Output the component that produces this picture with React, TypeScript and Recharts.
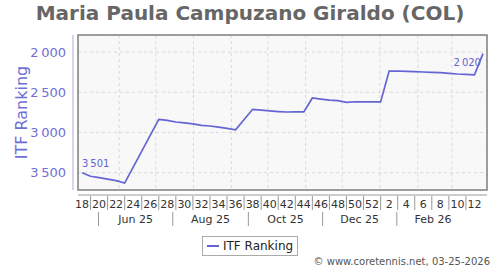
import React from "react";
import {
  LineChart,
  Line,
  XAxis,
  YAxis,
  CartesianGrid,
  Legend,
  LabelList,
  ReferenceArea,
} from "recharts";

// ISO weeks, 2025 W18 .. 2026 W13
const weeks = [
  18, 19, 20, 21, 22, 23, 24, 25, 26, 27, 28, 29, 30, 31, 32, 33, 34, 35, 36,
  37, 38, 39, 40, 41, 42, 43, 44, 45, 46, 47, 48, 49, 50, 51, 52, 1, 2, 3, 4,
  5, 6, 7, 8, 9, 10, 11, 12, 13,
];

const ranking: (number | null)[] = [
  3501, 3545, 3562, 3580, 3600, 3630, null, null, null, 2838, 2850, 2870,
  2880, 2893, 2912, 2920, 2935, 2950, 2968, null, 2712, 2722, 2732, 2740,
  2746, 2745, 2745, 2572, 2585, 2598, 2605, 2625, 2618, 2620, 2620, 2621,
  2237, 2236, 2240, 2244, 2248, 2252, 2256, 2265, 2273, 2278, 2283, 2020,
];

const rankTicks = [2000, 2500, 3000, 3500];
const RANK_DOMAIN: [number, number] = [1788, 3716];

const monthLabels = ["Jun 25", "Aug 25", "Oct 25", "Dec 25", "Feb 26"];
// positions on the week index scale
const monthLabelAt = [6.29, 15.07, 23.85, 32.55, 41.13];
const monthSeparatorAt = [1.93, 10.64, 19.5, 28.2, 36.9];
const monthStartAt = [4.36, 8.64, 13.07, 17.5, 21.79, 26.21, 30.5, 34.93, 39.36, 43.36];

const data = weeks.map((w, i) => ({ i, week: w, rank: ranking[i] }));
const weekTicks = weeks.slice(0, -1).map((_, i) => i);
const X_DOMAIN: [number, number] = [-0.47, weeks.length - 1 + 0.47];

const FONT = "'DejaVu Sans', Verdana, sans-serif";
const LINE = "#6464d2";
const AXIS_TEXT = "#6f6fd4";

function fmt(v: number) {
  const k = Math.floor(v / 1000);
  return k > 0 ? `${k}\u2009${String(v % 1000).padStart(3, "0")}` : String(v);
}

function WeekTick({ x, y, payload }: any) {
  const w = weeks[payload.value];
  if (w % 2 === 1) {
    return <line x1={x} x2={x} y1={y + 6} y2={y + 20} stroke="#999" />;
  }
  return (
    <text x={x} y={y + 18} textAnchor="middle" fontSize={11} fill="#333" fontFamily={FONT}>
      {w}
    </text>
  );
}

function MonthTick({ x, y, payload }: any) {
  const k = monthLabelAt.indexOf(payload.value);
  if (k < 0) {
    return <line x1={x} x2={x} y1={y} y2={y + 14} stroke="#999" />;
  }
  return (
    <text x={x} y={y + 11} textAnchor="middle" fontSize={11} fill="#333" fontFamily={FONT}>
      {monthLabels[k]}
    </text>
  );
}

function EndLabel({ x, y, value, index }: any) {
  if (value == null) return null;
  if (index === 0) {
    return (
      <text x={x} y={y - 6} textAnchor="start" fontSize={10} fill={LINE} fontFamily={FONT}>
        {fmt(value)}
      </text>
    );
  }
  if (index === ranking.length - 1) {
    return (
      <text x={x - 2} y={y + 12} textAnchor="end" fontSize={10} fill={LINE} fontFamily={FONT}>
        {fmt(value)}
      </text>
    );
  }
  return null;
}

function LegendBox() {
  return (
    <div
      style={{
        display: "flex",
        alignItems: "center",
        gap: 4,
        border: "1px solid #aaa",
        background: "#fff",
        padding: "2px 4px",
        fontFamily: FONT,
        fontSize: 12,
        color: "#222",
        lineHeight: "14px",
      }}
    >
      <span style={{ display: "inline-block", width: 12, height: 2, background: LINE }} />
      <span>ITF Ranking</span>
    </div>
  );
}

export default function App() {
  return (
    <div
      style={{
        position: "absolute",
        left: 0,
        top: 0,
        width: 500,
        height: 270,
        background: "#fff",
        fontFamily: FONT,
      }}
    >
      <div
        style={{
          position: "absolute",
          left: 0,
          top: 0,
          width: 500,
          height: 26,
          lineHeight: "26px",
          textAlign: "center",
          fontWeight: "bold",
          fontSize: 20,
          color: "#666",
        }}
      >
        Maria Paula Campuzano Giraldo (COL)
      </div>
      <LineChart
        width={500}
        height={270}
        data={data}
        margin={{ top: 35, right: 13, bottom: 18, left: 0 }}
      >
        <XAxis
          xAxisId="grid"
          dataKey="i"
          type="number"
          domain={X_DOMAIN}
          ticks={monthStartAt}
          interval={0}
          height={0}
          hide
        />
        <CartesianGrid
          xAxisId="grid"
          strokeDasharray="3 3"
          stroke="#d9d9d9"
          fill="#f8f8f8"
        />
        <XAxis
          dataKey="i"
          type="number"
          domain={X_DOMAIN}
          ticks={weekTicks}
          interval={0}
          height={22}
          tickSize={0}
          tickMargin={0}
          tickLine={false}
          axisLine={{ stroke: "#999", transform: "translate(0,5)" }}
          tick={<WeekTick />}
        />
        <XAxis
          xAxisId="m"
          dataKey="i"
          type="number"
          domain={X_DOMAIN}
          ticks={[...monthSeparatorAt, ...monthLabelAt]}
          interval={0}
          height={20}
          tickSize={0}
          tickMargin={0}
          tickLine={false}
          axisLine={false}
          tick={<MonthTick />}
        />
        <YAxis
          width={78}
          reversed
          type="number"
          domain={RANK_DOMAIN}
          ticks={rankTicks}
          interval={0}
          tickSize={0}
          tickMargin={12}
          tickLine={false}
          axisLine={{ stroke: "#aaaadd", transform: "translate(-5,0)" }}
          tick={{ fill: AXIS_TEXT, fontSize: 13, fontFamily: FONT }}
          tickFormatter={fmt}
          label={{
            value: "ITF Ranking",
            angle: -90,
            position: "insideLeft",
            offset: 21,
            style: { fill: AXIS_TEXT, fontSize: 16, fontFamily: FONT, textAnchor: "middle" },
          }}
        />
        <ReferenceArea
          x1={X_DOMAIN[0]}
          x2={X_DOMAIN[1]}
          y1={RANK_DOMAIN[0]}
          y2={RANK_DOMAIN[1]}
          ifOverflow="visible"
          fill="none"
          stroke="#808080"
          strokeWidth={1.5}
        />
        <Line
          type="linear"
          dataKey="rank"
          name="ITF Ranking"
          stroke={LINE}
          strokeWidth={1.7}
          dot={false}
          connectNulls
          isAnimationActive={false}
        >
          <LabelList dataKey="rank" content={<EndLabel />} />
        </Line>
        <Legend
          verticalAlign="bottom"
          content={() => <LegendBox />}
          wrapperStyle={{
            position: "absolute",
            left: 202,
            top: 236,
            bottom: "auto",
            width: "auto",
          }}
        />
      </LineChart>
      <div
        style={{
          position: "absolute",
          right: 10,
          top: 256,
          fontSize: 10,
          color: "#555",
          lineHeight: "12px",
        }}
      >
        © www.coretennis.net, 03-25-2026
      </div>
    </div>
  );
}
